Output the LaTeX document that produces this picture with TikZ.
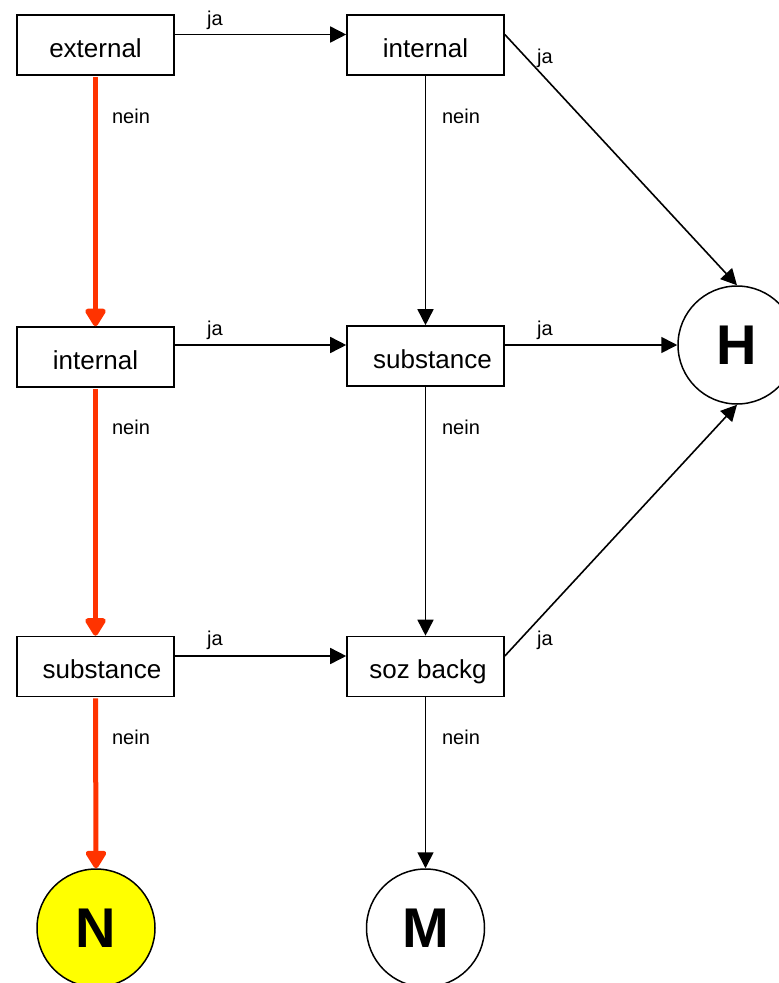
\documentclass[tikz,border=0pt]{standalone}
\usepackage{fontspec}
\setmainfont{Liberation Sans}
\usetikzlibrary{arrows.meta}
\definecolor{pathred}{HTML}{FF3300}
\definecolor{endyellow}{HTML}{FFFF00}
\begin{document}
\begin{tikzpicture}[x=1pt,y=-1pt,
  stepbox/.style={draw=black,line width=1.6pt,minimum width=157pt,minimum height=60pt,
    inner sep=0pt,font=\fontsize{26}{30}\selectfont,text height=24.7pt,text depth=0pt},
  endcircle/.style={draw=black,line width=1.5pt,circle,minimum size=118pt,inner sep=0pt,
    font=\fontsize{56}{60}\selectfont\bfseries},
  conn/.style={draw=black,line width=1.6pt,-{Triangle[length=16pt,width=16pt]}},
  redconn/.style={draw=pathred,line width=5pt,shorten <=1pt,
    -{Triangle[length=20pt,width=23pt,round]}},
  lbl/.style={font=\fontsize{20}{24}\selectfont,inner sep=0pt}]
  \clip (0,0) rectangle (779,983);
  \fill[white] (0,0) rectangle (779,983);

  % decision boxes
  \node[stepbox] (ext)  at (95.5,45)    {external};
  \node[stepbox] (in1)  at (425.5,45)   {internal};
  \node[stepbox] (in2)  at (95.5,357)   {internal};
  \node[stepbox] (sub1) at (425.5,356)  {\hspace{14pt}substance};
  \node[stepbox] (sub2) at (95.5,666.5) {\hspace{13pt}substance};
  \node[stepbox] (soz)  at (425.5,666.5){\hspace{5pt}soz backg};

  % outcomes
  \node[endcircle] (H) at (737,345) {H};
  \node[endcircle,fill=endyellow] (N) at (96,928) {N};
  \node[endcircle] (M) at (425.5,928) {M};

  % "ja" branches
  \draw[conn] ([yshift=10.5pt]ext.east) -- ([yshift=10.5pt]in1.west);
  \draw[conn] ([yshift=12pt]in2.east) -- ([yshift=11pt]sub1.west);
  \draw[conn] ([yshift=10.5pt]sub2.east) -- ([yshift=10.5pt]soz.west);
  \draw[conn] ([yshift=10.5pt]in1.east) -- (H.north);
  \draw[conn] ([yshift=11pt]sub1.east) -- (H.west);
  \draw[conn] ([yshift=10.5pt]soz.east) -- (H.south);

  % "nein" branches
  \draw[redconn] (ext.south) -- (in2.north);
  \draw[redconn] (in2.south) -- (sub2.north);
  \draw[redconn] (sub2.south) -- (N.north);
  \draw[conn] (in1.south) -- (sub1.north);
  \draw[conn] (sub1.south) -- (soz.north);
  \draw[conn] (soz.south) -- (M.north);

  % branch labels
  \node[lbl] (j1) at (215,20)  {ja};
  \node[lbl] (j2) at (215,330) {ja};
  \node[lbl] (j3) at (215,640) {ja};
  \node[lbl] (j4) at (545,58)  {ja};
  \node[lbl] (j5) at (545,330) {ja};
  \node[lbl] (j6) at (545,640) {ja};
  \node[lbl] (n1) at (131,116) {nein};
  \node[lbl] (n2) at (461,116) {nein};
  \node[lbl] (n3) at (131,427) {nein};
  \node[lbl] (n4) at (461,427) {nein};
  \node[lbl] (n5) at (131,737) {nein};
  \node[lbl] (n6) at (461,737) {nein};
\end{tikzpicture}
\end{document}
